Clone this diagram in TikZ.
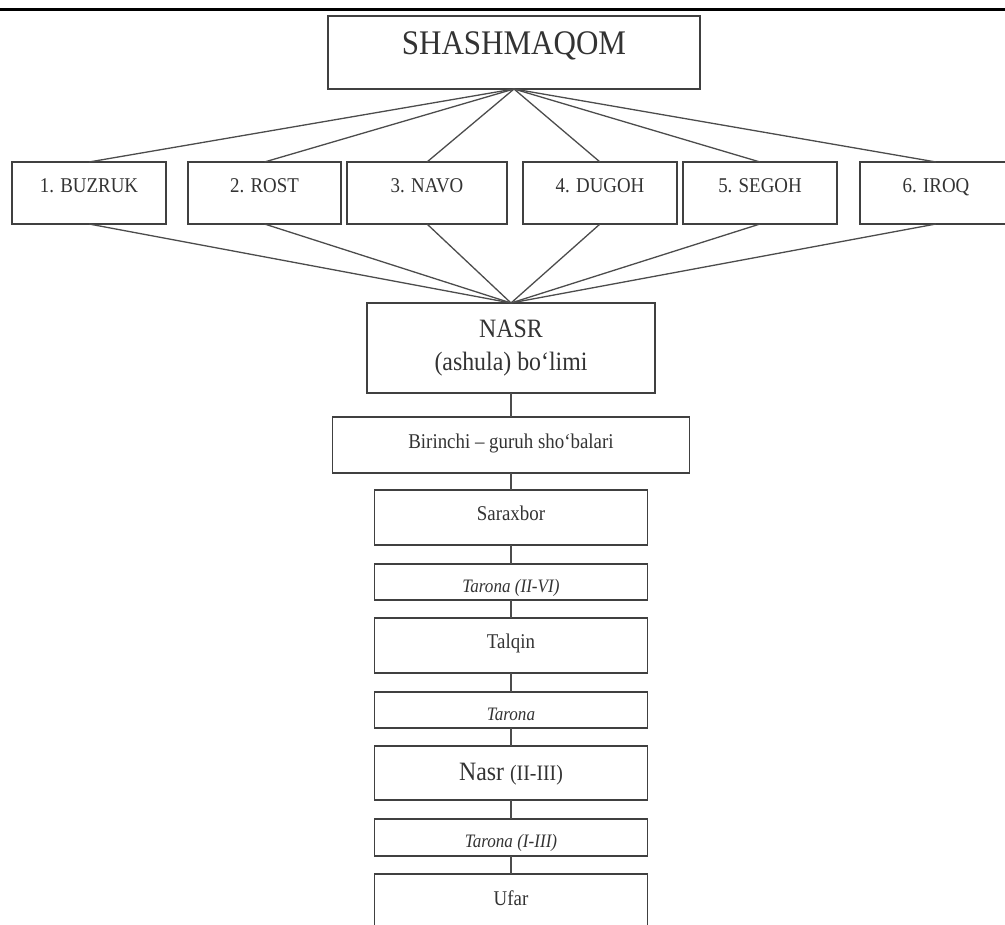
\documentclass[tikz,border=0pt]{standalone}
\usepackage{fontspec}
\setmainfont[FakeStretch=0.9]{Liberation Serif}
\usetikzlibrary{positioning}

\begin{document}
\begin{tikzpicture}[x=1pt,y=-1pt,
	box/.style={draw=black!75,line width=1.5pt,inner sep=0pt,outer sep=0pt,text=black!80},
	maqom/.style={box,font=\fontsize{21}{25}\selectfont,minimum width=154pt,minimum height=62pt,text height=15pt,text depth=15pt},
	part/.style={box,font=\fontsize{21}{25}\selectfont,minimum width=273pt,minimum height=55pt,text height=15pt,text depth=10pt},
	tarona/.style={box,font=\fontsize{19}{22}\selectfont\itshape,minimum width=273pt,minimum height=36pt,text height=20pt,text depth=0pt},
	link/.style={draw=black!70,line width=1.3pt}]
		\useasboundingbox (0,0) rectangle (1005,925);
		\clip (0,0) rectangle (1005,925);
		\draw[line width=3.5pt] (0,9.5) -- (1005,9.5);
		\node[box,font=\fontsize{34.5}{40}\selectfont,minimum width=372pt,minimum height=73pt,text height=24pt,text depth=19pt] (shash) at (514,52.5) {SHASHMAQOM};
		\node[maqom] (buzruk) at (89,193) {1. BUZRUK};
		\node[maqom,minimum width=153pt] (rost) at (264.5,193) {2. ROST};
		\node[maqom,minimum width=160pt] (navo) at (427,193) {3. NAVO};
		\node[maqom] (dugoh) at (600,193) {4. DUGOH};
		\node[maqom] (segoh) at (760,193) {5. SEGOH};
		\node[maqom,minimum width=152pt] (iroq) at (936,193) {6. IROQ};
		\node[box,align=center,font=\fontsize{26.5}{33}\selectfont,minimum width=288pt,minimum height=90pt] (nasr) at (511,348) {NASR\\(ashula) bo‘limi};
		\node[part,minimum width=357pt,minimum height=56pt,text depth=7pt,below=24pt of nasr] (birinchi) {Birinchi – guruh sho‘balari};
		\node[part,below=17pt of birinchi] (saraxbor) {Saraxbor};
		\node[tarona,below=19pt of saraxbor] (taronaA) {Tarona (II-VI)};
		\node[part,below=18pt of taronaA] (talqin) {Talqin};
		\node[tarona,below=19pt of talqin] (taronaB) {Tarona};
		\node[part,font=\fontsize{26.5}{30}\selectfont,minimum height=54pt,text height=21pt,text depth=7pt,below=18pt of taronaB] (nasrB) {Nasr {\fontsize{22}{26}\selectfont(II-III)}};
		\node[tarona,minimum height=37pt,below=19pt of nasrB] (taronaC) {Tarona (I-III)};
		\node[part,minimum height=56pt,text depth=9pt,below=18pt of taronaC] (ufar) {Ufar};
		\foreach \m in {buzruk,rost,navo,dugoh,segoh,iroq}
			\draw[link] (shash.south) -- (\m.north) (\m.south) -- (nasr.north);
		\draw[link] (nasr) -- (birinchi) (birinchi) -- (saraxbor) (saraxbor) -- (taronaA) (taronaA) -- (talqin);
		\draw[link] (talqin) -- (taronaB) (taronaB) -- (nasrB) (nasrB) -- (taronaC) (taronaC) -- (ufar);
	\end{tikzpicture}
\end{document}
